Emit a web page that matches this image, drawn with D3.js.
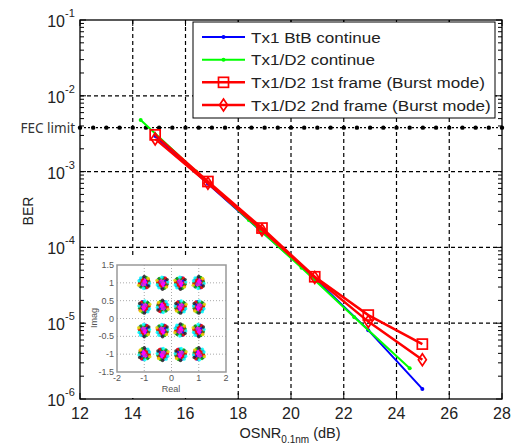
<!DOCTYPE html>
<html>
<head>
<meta charset="utf-8">
<script src="https://cdn.jsdelivr.net/npm/d3@7"></script>
<style>
  body { margin: 0; background: #fff; }
  text { font-family: "Liberation Sans", Arial, sans-serif; fill: #222; }
</style>
</head>
<body>
<div id="chart"></div>
<script>
var width = 512;
var height = 446;

// BER curves
var osnrBtB = [14.85, 16.85, 18.9, 20.9, 22.93, 24.98];
var berBtB = [2.95e-3, 6.9e-4, 1.6e-4, 3.9e-5, 8.1e-6, 1.36e-6];

var osnrD2 = [14.3, 16.4, 18.4, 20.4, 22.4, 24.5];
var berD2 = [4.8e-3, 1.0e-3, 2.3e-4, 5.4e-5, 1.2e-5, 2.55e-6];

var osnrBurst = [14.85, 16.85, 18.9, 20.9, 22.93, 24.98];
var berFrame1 = [3.05e-3, 7.4e-4, 1.8e-4, 4.1e-5, 1.28e-5, 5.3e-6];
var berFrame2 = [2.7e-3, 7.0e-4, 1.7e-4, 4.0e-5, 1.05e-5, 3.3e-6];

var fecLimit = 3.8e-3;
var fecMarks = [12, 12.5, 13, 13.5, 14, 14.5, 15, 15.5, 16, 16.5, 17, 17.5, 18, 18.5, 19, 19.5, 20,
    20.5, 21, 21.5, 22, 22.5, 23, 23.5, 24, 24.5, 25, 25.5, 26, 26.5, 27, 27.5, 28];

var xTicks = [12, 14, 16, 18, 20, 22, 24, 26, 28];
var yTicks = [1e-6, 1e-5, 1e-4, 1e-3, 1e-2, 1e-1];

var seriesNames = ["Tx1 BtB continue", "Tx1/D2 continue",
    "Tx1/D2 1st frame (Burst mode)", "Tx1/D2 2nd frame (Burst mode)"];

// inset constellation (16-QAM)
var qamLevels = [-1, -0.33, 0.33, 1];
var insetXTicks = [-2, -1, 0, 1, 2];
var insetYTicks = [-1.5, -1, -0.5, 0, 0.5, 1, 1.5];
// fixed scatter pattern around each symbol: [dx, dy, colour]
var spread = [
    [0, 0, "#ff00ff"], [0.25, 0.2, "#ff00ff"], [-0.3, 0.1, "#ff00ff"], [0.1, -0.35, "#ff00ff"],
    [-0.2, -0.3, "#ff00ff"], [0.35, -0.15, "#ff00ff"], [-0.1, 0.4, "#ff00ff"], [0.2, 0.45, "#cc33cc"],
    [-0.4, -0.05, "#cc33cc"], [0.05, 0.15, "#cc33cc"], [-0.15, -0.1, "#ff00ff"], [0.45, 0.3, "#ff00ff"],
    [0.15, -0.15, "#ff00ff"], [-0.25, 0.3, "#cc33cc"], [0.4, 0.05, "#9933cc"], [-0.05, -0.5, "#ff00ff"],
    [-0.5, 0.3, "#0000ff"], [0.6, -0.4, "#0000ff"], [0.2, -0.7, "#0000ff"], [-0.25, 0.7, "#0000ff"],
    [-0.55, -0.35, "#0000ff"], [0.65, 0.45, "#0000ff"],
    [-0.7, -0.2, "#00a000"], [0.5, 0.6, "#00a000"], [-0.3, -0.75, "#00a000"], [0.7, -0.05, "#00a000"],
    [-0.1, 0.65, "#00a000"], [0.35, -0.6, "#00a000"],
    [0.75, 0.15, "#ff0000"], [-0.45, 0.65, "#ff0000"], [-0.6, -0.5, "#ff0000"], [0.3, -0.55, "#ff0000"],
    [0.5, -0.25, "#ff0000"], [-0.65, 0.05, "#ff0000"],
    [0.1, 0.8, "#00ffff"], [-0.8, 0.1, "#00ffff"], [0.55, -0.7, "#00ffff"], [0.8, -0.3, "#00ffff"],
    [-0.6, -0.6, "#e0e000"], [0.85, 0.35, "#e0e000"], [0, -0.9, "#222222"], [-0.7, 0.45, "#222222"]
];

var x = d3.scaleLinear().domain([12, 28]).range([80, 502]);
var y = d3.scaleLog().domain([1e-6, 1e-1]).range([399, 20]);

var svg = d3.select("#chart")
    .append("svg")
    .attr("width", width)
    .attr("height", height);

// grid
svg.append("g").selectAll("line")
    .data(xTicks.slice(1, -1))
    .enter().append("line")
    .attr("x1", function (d) { return x(d); })
    .attr("x2", function (d) { return x(d); })
    .attr("y1", 20).attr("y2", 399)
    .style("stroke", "#000").style("stroke-width", 1.2)
    .style("stroke-dasharray", "4,3");

svg.append("g").selectAll("line")
    .data(yTicks.slice(1, -1))
    .enter().append("line")
    .attr("x1", 80).attr("x2", 502)
    .attr("y1", function (d) { return y(d); })
    .attr("y2", function (d) { return y(d); })
    .style("stroke", "#000").style("stroke-width", 1.2)
    .style("stroke-dasharray", "4,3");

// minor / major ticks on the log axis (left and right, inside)
var minorTicks = y.ticks();
svg.append("g").selectAll("line")
    .data(minorTicks)
    .enter().append("line")
    .attr("x1", 80)
    .attr("x2", function (d) { return yTicks.indexOf(d) >= 0 ? 86 : 84; })
    .attr("y1", function (d) { return y(d); })
    .attr("y2", function (d) { return y(d); })
    .style("stroke", "#000").style("stroke-width", 1);
svg.append("g").selectAll("line")
    .data(minorTicks)
    .enter().append("line")
    .attr("x1", 502)
    .attr("x2", function (d) { return yTicks.indexOf(d) >= 0 ? 496 : 498; })
    .attr("y1", function (d) { return y(d); })
    .attr("y2", function (d) { return y(d); })
    .style("stroke", "#000").style("stroke-width", 1);

// x ticks, bottom and top
svg.append("g").selectAll("line")
    .data(xTicks)
    .enter().append("line")
    .attr("x1", function (d) { return x(d); })
    .attr("x2", function (d) { return x(d); })
    .attr("y1", 399).attr("y2", 393)
    .style("stroke", "#000");
svg.append("g").selectAll("line")
    .data(xTicks)
    .enter().append("line")
    .attr("x1", function (d) { return x(d); })
    .attr("x2", function (d) { return x(d); })
    .attr("y1", 20).attr("y2", 26)
    .style("stroke", "#000");

// FEC limit
svg.append("line")
    .attr("x1", 80).attr("x2", 502)
    .attr("y1", y(fecLimit)).attr("y2", y(fecLimit))
    .style("stroke", "#000").style("stroke-width", 1.2)
    .style("stroke-dasharray", "2,2");
svg.append("g").selectAll("circle")
    .data(fecMarks)
    .enter().append("circle")
    .attr("cx", function (d) { return x(d); })
    .attr("cy", y(fecLimit))
    .attr("r", 2.2)
    .style("fill", "#000");

svg.append("text")
    .attr("x", 75).attr("y", y(fecLimit) + 5)
    .attr("text-anchor", "end")
    .style("font-family", "'Noto Sans', sans-serif")
    .style("font-size", "13.5px")
    .style("fill", "#333")
    .text("FEC limit");

// ---- inset constellation ----
var ix = d3.scaleLinear().domain([-2, 2]).range([117, 226]);
var iy = d3.scaleLinear().domain([-1.5, 1.5]).range([372, 265]);
var inset = svg.append("g");

inset.append("rect")
    .attr("x", 86).attr("y", 256)
    .attr("width", 146).attr("height", 142)
    .style("fill", "#fff");

inset.append("g").selectAll("line")
    .data([-1, 0, 1])
    .enter().append("line")
    .attr("x1", function (d) { return ix(d); })
    .attr("x2", function (d) { return ix(d); })
    .attr("y1", iy(1.5)).attr("y2", iy(-1.5))
    .style("stroke", "#aaa").style("stroke-dasharray", "1,2");
inset.append("g").selectAll("line")
    .data([-1, -0.5, 0, 0.5, 1])
    .enter().append("line")
    .attr("x1", ix(-2)).attr("x2", ix(2))
    .attr("y1", function (d) { return iy(d); })
    .attr("y2", function (d) { return iy(d); })
    .style("stroke", "#aaa").style("stroke-dasharray", "1,2");

var symbols = [];
qamLevels.forEach(function (re) {
    qamLevels.forEach(function (im) { symbols.push([re, im]); });
});
var dots = [];
symbols.forEach(function (s, k) {
    var flip = k % 2 === 0 ? 1 : -1;
    var flipY = k % 3 === 0 ? -1 : 1;
    spread.forEach(function (p) {
        dots.push([s[0] + flip * p[0] * 0.24, s[1] + flipY * p[1] * 0.2, p[2]]);
    });
});
inset.append("g").selectAll("circle")
    .data(dots)
    .enter().append("circle")
    .attr("cx", function (d) { return ix(d[0]); })
    .attr("cy", function (d) { return iy(d[1]); })
    .attr("r", 1.7)
    .style("fill", function (d) { return d[2]; })
    .style("opacity", 0.85);

inset.append("rect")
    .attr("x", ix(-2)).attr("y", iy(1.5))
    .attr("width", ix(2) - ix(-2)).attr("height", iy(-1.5) - iy(1.5))
    .style("fill", "none").style("stroke", "#999").style("stroke-width", 1.5);

inset.append("g").selectAll("text")
    .data(insetXTicks)
    .enter().append("text")
    .attr("x", function (d) { return ix(d); })
    .attr("y", 381)
    .attr("text-anchor", "middle")
    .style("font-size", "9px").style("fill", "#555")
    .text(function (d) { return d; });
inset.append("g").selectAll("text")
    .data(insetYTicks)
    .enter().append("text")
    .attr("x", 114)
    .attr("y", function (d) { return iy(d) + 3; })
    .attr("text-anchor", "end")
    .style("font-size", "9px").style("fill", "#555")
    .text(function (d) { return d; });
inset.append("text")
    .attr("x", 171).attr("y", 392)
    .attr("text-anchor", "middle")
    .style("font-size", "9px").style("fill", "#555")
    .text("Real");
inset.append("text")
    .attr("transform", "translate(97,318) rotate(-90)")
    .attr("text-anchor", "middle")
    .style("font-size", "9px").style("fill", "#555")
    .text("Imag");

// frame
svg.append("rect")
    .attr("x", 80).attr("y", 20)
    .attr("width", 422).attr("height", 379)
    .style("fill", "none").style("stroke", "#000").style("stroke-width", 1.3);

// ---- curves ----
var line = d3.line()
    .x(function (d) { return x(d[0]); })
    .y(function (d) { return y(d[1]); });

var series = [
    { osnr: osnrBtB, ber: berBtB, color: "#0000ff", width: 2, marker: "dot" },
    { osnr: osnrD2, ber: berD2, color: "#00ff00", width: 2, marker: "dot" },
    { osnr: osnrBurst, ber: berFrame1, color: "#ff0000", width: 2.5, marker: "square" },
    { osnr: osnrBurst, ber: berFrame2, color: "#ff0000", width: 2.5, marker: "diamond" }
];

function drawMarker(g, type, cx, cy, color) {
    if (type === "dot") {
        g.append("circle").attr("cx", cx).attr("cy", cy).attr("r", 2)
            .style("fill", color);
    } else if (type === "square") {
        g.append("rect").attr("x", cx - 5).attr("y", cy - 5)
            .attr("width", 10).attr("height", 10)
            .style("fill", "none").style("stroke", color).style("stroke-width", 1.7);
    } else {
        g.append("path")
            .attr("d", "M" + cx + "," + (cy - 6) + "L" + (cx + 4) + "," + cy +
                "L" + cx + "," + (cy + 6) + "L" + (cx - 4) + "," + cy + "Z")
            .style("fill", "none").style("stroke", color).style("stroke-width", 1.7);
    }
}

series.forEach(function (s) {
    var pts = s.osnr.map(function (v, i) { return [v, s.ber[i]]; });
    var g = svg.append("g");
    g.append("path")
        .datum(pts)
        .attr("d", line)
        .style("fill", "none")
        .style("stroke", s.color)
        .style("stroke-width", s.width);
    pts.forEach(function (p) {
        drawMarker(g, s.marker, x(p[0]), y(p[1]), s.color);
    });
});

// ---- axis labels ----
svg.append("g").selectAll("text")
    .data(xTicks)
    .enter().append("text")
    .attr("x", function (d) { return x(d); })
    .attr("y", 419)
    .attr("text-anchor", "middle")
    .style("font-size", "16px")
    .text(function (d) { return d; });

var yLab = svg.append("g").selectAll("g")
    .data(yTicks)
    .enter().append("g");
yLab.append("text")
    .attr("x", 65)
    .attr("y", function (d) { return y(d) + 7; })
    .attr("text-anchor", "end")
    .style("font-size", "16px")
    .text("10");
yLab.append("text")
    .attr("x", 65)
    .attr("y", function (d) { return y(d) - 3; })
    .style("font-size", "11px")
    .text(function (d) { return Math.round(Math.log10(d)); });

svg.append("text")
    .attr("transform", "translate(33,211) rotate(-90)")
    .attr("text-anchor", "middle")
    .style("font-size", "14px")
    .text("BER");

var xl = svg.append("text")
    .attr("x", 290).attr("y", 438)
    .attr("text-anchor", "middle")
    .style("font-size", "14.5px");
xl.append("tspan").text("OSNR");
xl.append("tspan").attr("dy", 5).style("font-size", "10px").text("0.1nm");
xl.append("tspan").attr("dy", -5).text(" (dB)");

// ---- legend ----
var legend = svg.append("g");
legend.append("rect")
    .attr("x", 193).attr("y", 22)
    .attr("width", 302).attr("height", 96)
    .style("fill", "#fff").style("stroke", "#000").style("stroke-width", 1);

var legendY = d3.scalePoint().domain(seriesNames).range([37, 105]);
seriesNames.forEach(function (name, i) {
    var s = series[i];
    var ly = legendY(name);
    legend.append("line")
        .attr("x1", 202).attr("x2", 245)
        .attr("y1", ly).attr("y2", ly)
        .style("stroke", s.color).style("stroke-width", s.width);
    drawMarker(legend, s.marker, 223.5, ly, s.color);
    legend.append("text")
        .attr("transform", "translate(251," + (ly + 5.5) + ") scale(1.1,1)")
        .style("font-size", "15.5px")
        .text(name);
});
</script>
</body>
</html>
